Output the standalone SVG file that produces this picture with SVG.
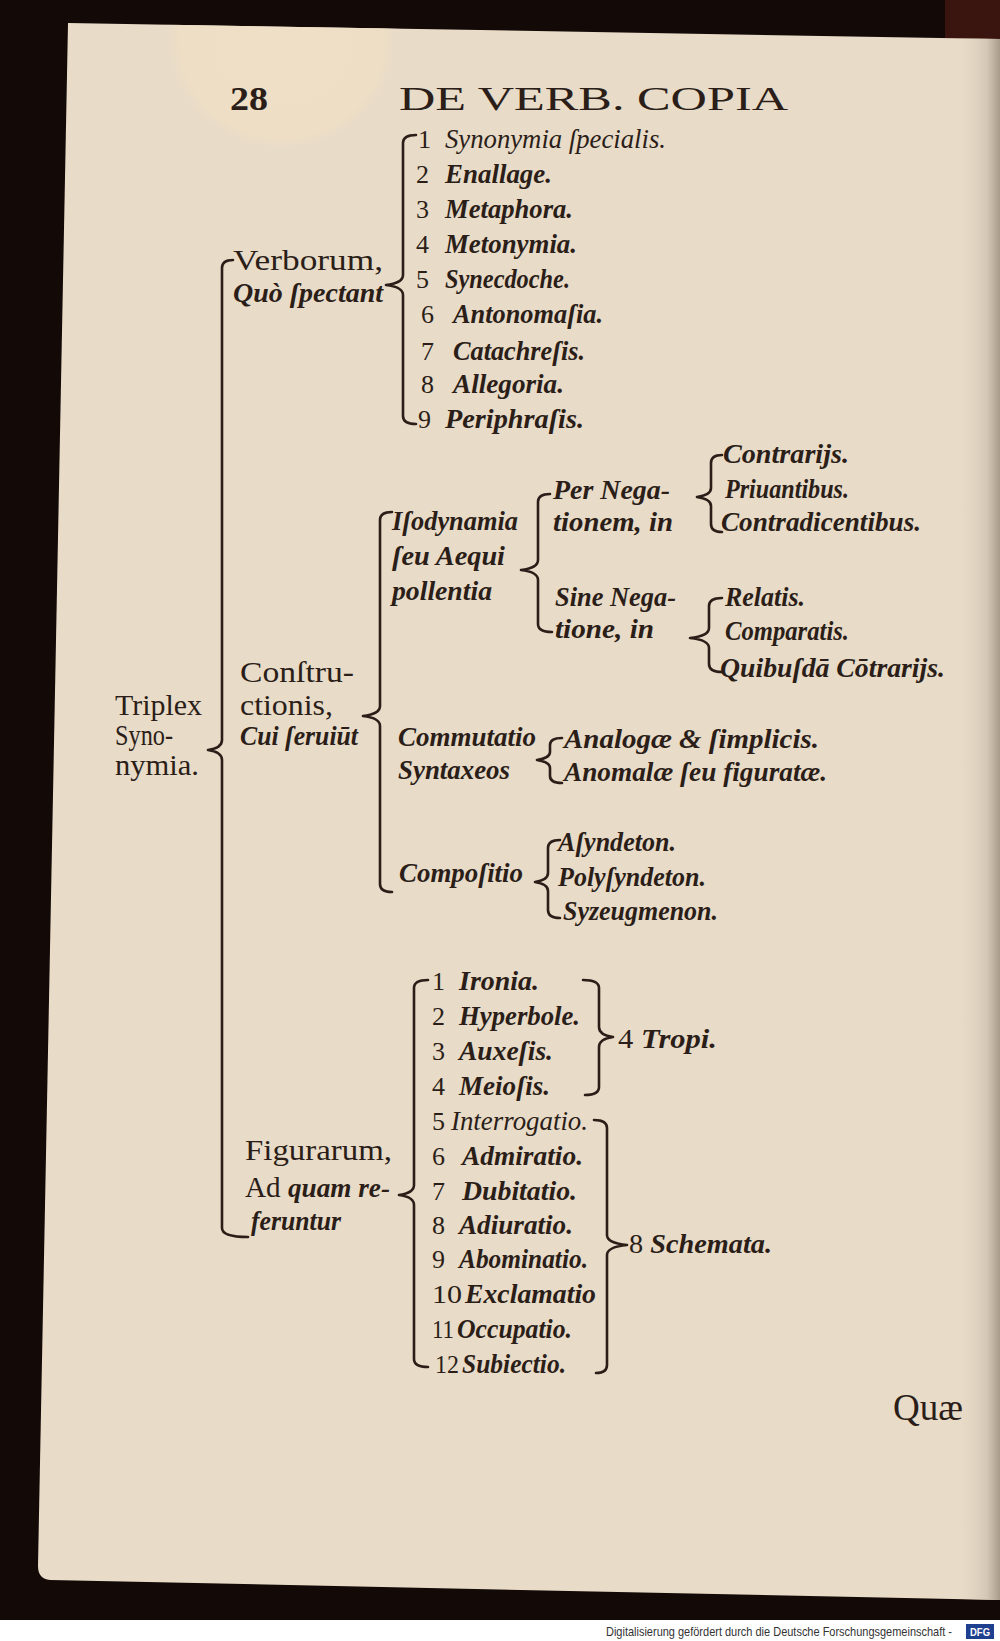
<svg xmlns="http://www.w3.org/2000/svg" width="1000" height="1641" viewBox="0 0 1000 1641">
<style>
text{fill:#2b1e18;font-family:"Liberation Serif","DejaVu Serif",serif}
.r{font-size:30px}
.i{font-size:28px;font-style:italic;font-weight:bold}
.il{font-size:28px;font-style:italic}
.n{font-size:26px}
.h{font-size:34px}
.br{fill:none;stroke:#2b1e18;stroke-width:2.6;stroke-linecap:round;stroke-linejoin:round}
</style>
<defs>
<linearGradient id="rightShade" x1="0" y1="0" x2="1" y2="0">
<stop offset="0" stop-color="#e7dac7" stop-opacity="0"/>
<stop offset="0.7" stop-color="#cfc2b0" stop-opacity="0.8"/>
<stop offset="1" stop-color="#a89a88"/>
</linearGradient>
<radialGradient id="spot" cx="0.5" cy="0.5" r="0.5">
<stop offset="0" stop-color="#efdfc6"/>
<stop offset="0.85" stop-color="#eedec5"/>
<stop offset="1" stop-color="#e8dbc8" stop-opacity="0"/>
</radialGradient>
<clipPath id="pageClip"><path d="M68,23 L1000,39 L1000,1600 L50,1580 Q38,1579 38,1566 Z"/></clipPath>
</defs>
<g id="background">
<rect x="0" y="0" width="1000" height="1641" fill="#130906"/>
<rect x="945" y="0" width="55" height="42" fill="#3a1510"/>
<rect x="0" y="1620" width="1000" height="21" fill="#ffffff"/>
</g>
<g id="page">
<path d="M68,23 L1000,39 L1000,1600 L50,1580 Q38,1579 38,1566 Z" fill="#e8dbc8"/>
<g clip-path="url(#pageClip)">
<ellipse cx="282" cy="40" rx="120" ry="115" fill="url(#spot)"/>
<rect x="955" y="30" width="45" height="1580" fill="url(#rightShade)"/>
</g>
</g>
<g id="header">
<text class="h" x="230" y="110" textLength="38" lengthAdjust="spacingAndGlyphs" font-weight="bold">28</text>
<text class="h" x="399" y="110" textLength="389" lengthAdjust="spacingAndGlyphs">DE VERB. COPIA</text>
</g>
<g id="connectors">
<path id="b-triplex" class="br" d="M233,260 Q222,260 222,268 L222,740 Q222,748 208,750 Q222,752 222,760 L222,1228 Q222,1237 248,1237"/>
<path id="b-verborum" class="br" d="M416,135 Q403,135 403,143 L403,275 Q403,283 386,285 Q403,287 403,295 L403,416 Q403,424 416,424"/>
<path id="b-constr" class="br" d="M392,512 Q380,512 380,520 L380,706 Q380,714 363,716 Q380,718 380,726 L380,884 Q380,892 392,892"/>
<path id="b-isodyn" class="br" d="M550,494 Q538,494 538,502 L538,560 Q538,568 521,570 Q538,572 538,580 L538,624 Q538,632 552,632"/>
<path id="b-pernega" class="br" d="M722,455 Q711,455 711,463 L711,488 Q711,495 697,497 Q711,499 711,506 L711,524 Q711,532 722,532"/>
<path id="b-sinenega" class="br" d="M722,598 Q709,598 709,606 L709,628 Q709,636 690,638 Q709,640 709,648 L709,664 Q709,672 722,672"/>
<path id="b-commut" class="br" d="M562,738 Q550,738 550,745 L550,752 Q550,758 537,760 Q550,762 550,768 L550,776 Q550,783 562,783"/>
<path id="b-compos" class="br" d="M560,840 Q548,840 548,848 L548,873 Q548,880 535,882 Q548,884 548,891 L548,910 Q548,918 560,918"/>
<path id="b-figur" class="br" d="M428,980 Q414,980 414,988 L414,1185 Q414,1193 399,1195 Q414,1197 414,1205 L414,1359 Q414,1367 428,1367"/>
<path id="b-tropi" class="br" d="M583,980 Q599,980 599,988 L599,1027 Q599,1035 613,1037 Q599,1039 599,1047 L599,1087 Q599,1095 585,1095"/>
<path id="b-schem" class="br" d="M594,1120 Q607,1120 607,1128 L607,1235 Q607,1243 627,1245 Q607,1247 607,1255 L607,1365 Q607,1373 596,1373"/>
</g>
<g id="n-triplex">
<text class="r" x="115" y="715" textLength="87" lengthAdjust="spacingAndGlyphs">Triplex</text>
<text class="r" x="115" y="745" textLength="58" lengthAdjust="spacingAndGlyphs">Syno-</text>
<text class="r" x="115" y="775" textLength="84" lengthAdjust="spacingAndGlyphs">nymia.</text>
</g>
<g id="n-verborum">
<text class="r" x="233" y="270" textLength="150" lengthAdjust="spacingAndGlyphs">Verborum,</text>
<text class="i" x="233" y="302" textLength="150" lengthAdjust="spacingAndGlyphs">Quò ſpectant</text>
</g>
<g id="n-verb-items">
<text class="n" x="418" y="148">1</text><text class="il" x="445" y="148" textLength="221" lengthAdjust="spacingAndGlyphs">Synonymia ſpecialis.</text>
<text class="n" x="416" y="183">2</text><text class="i" x="445" y="183" textLength="107" lengthAdjust="spacingAndGlyphs">Enallage.</text>
<text class="n" x="416" y="218">3</text><text class="i" x="445" y="218" textLength="128" lengthAdjust="spacingAndGlyphs">Metaphora.</text>
<text class="n" x="416" y="253">4</text><text class="i" x="445" y="253" textLength="132" lengthAdjust="spacingAndGlyphs">Metonymia.</text>
<text class="n" x="416" y="288">5</text><text class="i" x="445" y="288" textLength="125" lengthAdjust="spacingAndGlyphs">Synecdoche.</text>
<text class="n" x="421" y="323">6</text><text class="i" x="453" y="323" textLength="150" lengthAdjust="spacingAndGlyphs">Antonomaſia.</text>
<text class="n" x="421" y="360">7</text><text class="i" x="453" y="360" textLength="132" lengthAdjust="spacingAndGlyphs">Catachreſis.</text>
<text class="n" x="421" y="393">8</text><text class="i" x="453" y="393" textLength="111" lengthAdjust="spacingAndGlyphs">Allegoria.</text>
<text class="n" x="418" y="428">9</text><text class="i" x="445" y="428" textLength="139" lengthAdjust="spacingAndGlyphs">Periphraſis.</text>
</g>
<g id="n-constr">
<text class="r" x="240" y="682" textLength="114" lengthAdjust="spacingAndGlyphs">Conſtru-</text>
<text class="r" x="240" y="715" textLength="93" lengthAdjust="spacingAndGlyphs">ctionis,</text>
<text class="i" x="240" y="745" textLength="118" lengthAdjust="spacingAndGlyphs">Cui ſeruiūt</text>
</g>
<g id="n-isodyn">
<text class="i" x="392" y="530" textLength="126" lengthAdjust="spacingAndGlyphs">Iſodynamia</text>
<text class="i" x="392" y="565" textLength="113" lengthAdjust="spacingAndGlyphs">ſeu Aequi</text>
<text class="i" x="392" y="600" textLength="100" lengthAdjust="spacingAndGlyphs">pollentia</text>
</g>
<g id="n-pernega">
<text class="i" x="553" y="499" textLength="117" lengthAdjust="spacingAndGlyphs">Per Nega-</text>
<text class="i" x="553" y="531" textLength="120" lengthAdjust="spacingAndGlyphs">tionem, in</text>
</g>
<g id="n-pernega-items">
<text class="i" x="723" y="463" textLength="126" lengthAdjust="spacingAndGlyphs">Contrarijs.</text>
<text class="i" x="725" y="498" textLength="124" lengthAdjust="spacingAndGlyphs">Priuantibus.</text>
<text class="i" x="721" y="531" textLength="200" lengthAdjust="spacingAndGlyphs">Contradicentibus.</text>
</g>
<g id="n-sinenega">
<text class="i" x="555" y="606" textLength="121" lengthAdjust="spacingAndGlyphs">Sine Nega-</text>
<text class="i" x="555" y="638" textLength="99" lengthAdjust="spacingAndGlyphs">tione, in</text>
</g>
<g id="n-sinenega-items">
<text class="i" x="725" y="606" textLength="80" lengthAdjust="spacingAndGlyphs">Relatis.</text>
<text class="i" x="725" y="640" textLength="124" lengthAdjust="spacingAndGlyphs">Comparatis.</text>
<text class="i" x="720" y="677" textLength="225" lengthAdjust="spacingAndGlyphs">Quibuſdā Cōtrarijs.</text>
</g>
<g id="n-commut">
<text class="i" x="398" y="746" textLength="138" lengthAdjust="spacingAndGlyphs">Commutatio</text>
<text class="i" x="398" y="779" textLength="112" lengthAdjust="spacingAndGlyphs">Syntaxeos</text>
</g>
<g id="n-commut-items">
<text class="i" x="564" y="748" textLength="255" lengthAdjust="spacingAndGlyphs">Analogæ &amp; ſimplicis.</text>
<text class="i" x="564" y="781" textLength="263" lengthAdjust="spacingAndGlyphs">Anomalæ ſeu figuratæ.</text>
</g>
<g id="n-compos">
<text class="i" x="399" y="882" textLength="124" lengthAdjust="spacingAndGlyphs">Compoſitio</text>
</g>
<g id="n-compos-items">
<text class="i" x="558" y="851" textLength="118" lengthAdjust="spacingAndGlyphs">Aſyndeton.</text>
<text class="i" x="558" y="886" textLength="148" lengthAdjust="spacingAndGlyphs">Polyſyndeton.</text>
<text class="i" x="563" y="920" textLength="155" lengthAdjust="spacingAndGlyphs">Syzeugmenon.</text>
</g>
<g id="n-figur">
<text class="r" x="245" y="1160" textLength="147" lengthAdjust="spacingAndGlyphs">Figurarum,</text>
<text class="r" x="245" y="1197" textLength="145" lengthAdjust="spacingAndGlyphs">Ad <tspan class="i">quam re-</tspan></text>
<text class="i" x="251" y="1230" textLength="90" lengthAdjust="spacingAndGlyphs">feruntur</text>
</g>
<g id="n-figur-items">
<text class="n" x="432" y="990">1</text><text class="i" x="459" y="990" textLength="80" lengthAdjust="spacingAndGlyphs">Ironia.</text>
<text class="n" x="432" y="1025">2</text><text class="i" x="459" y="1025" textLength="121" lengthAdjust="spacingAndGlyphs">Hyperbole.</text>
<text class="n" x="432" y="1060">3</text><text class="i" x="459" y="1060" textLength="94" lengthAdjust="spacingAndGlyphs">Auxeſis.</text>
<text class="n" x="432" y="1095">4</text><text class="i" x="459" y="1095" textLength="91" lengthAdjust="spacingAndGlyphs">Meioſis.</text>
<text class="n" x="432" y="1130">5</text><text class="il" x="451" y="1130" textLength="137" lengthAdjust="spacingAndGlyphs">Interrogatio.</text>
<text class="n" x="432" y="1165">6</text><text class="i" x="462" y="1165" textLength="121" lengthAdjust="spacingAndGlyphs">Admiratio.</text>
<text class="n" x="432" y="1200">7</text><text class="i" x="462" y="1200" textLength="115" lengthAdjust="spacingAndGlyphs">Dubitatio.</text>
<text class="n" x="432" y="1234">8</text><text class="i" x="459" y="1234" textLength="114" lengthAdjust="spacingAndGlyphs">Adiuratio.</text>
<text class="n" x="432" y="1268">9</text><text class="i" x="459" y="1268" textLength="129" lengthAdjust="spacingAndGlyphs">Abominatio.</text>
<text class="n" x="432" y="1303" textLength="30" lengthAdjust="spacingAndGlyphs">10</text><text class="i" x="465" y="1303" textLength="131" lengthAdjust="spacingAndGlyphs">Exclamatio</text>
<text class="n" x="432" y="1338" textLength="22" lengthAdjust="spacingAndGlyphs">11</text><text class="i" x="457" y="1338" textLength="115" lengthAdjust="spacingAndGlyphs">Occupatio.</text>
<text class="n" x="435" y="1373" textLength="24" lengthAdjust="spacingAndGlyphs">12</text><text class="i" x="462" y="1373" textLength="104" lengthAdjust="spacingAndGlyphs">Subiectio.</text>
</g>
<g id="n-tropi">
<text class="i" x="618" y="1048" textLength="99" lengthAdjust="spacingAndGlyphs"><tspan font-style="normal" font-weight="normal">4</tspan> Tropi.</text>
</g>
<g id="n-schem">
<text class="i" x="629" y="1253" textLength="143" lengthAdjust="spacingAndGlyphs"><tspan font-style="normal" font-weight="normal">8</tspan> Schemata.</text>
</g>
<g id="catchword">
<text x="893" y="1420" font-size="38" textLength="70" lengthAdjust="spacingAndGlyphs">Quæ</text>
</g>
<g id="footer">
<text transform="translate(606,1636) scale(1,1.2)" x="0" y="0" font-size="10" textLength="346" lengthAdjust="spacingAndGlyphs" style="font-family:'Liberation Sans','DejaVu Sans',sans-serif;fill:#333">Digitalisierung gefördert durch die Deutsche Forschungsgemeinschaft -</text>
<rect x="966" y="1624" width="28" height="15" fill="#1f3f8f"/>
<text x="970" y="1636" font-size="10" font-weight="bold" textLength="20" lengthAdjust="spacingAndGlyphs" style="font-family:'Liberation Sans','DejaVu Sans',sans-serif;fill:#ffffff">DFG</text>
</g>
</svg>
